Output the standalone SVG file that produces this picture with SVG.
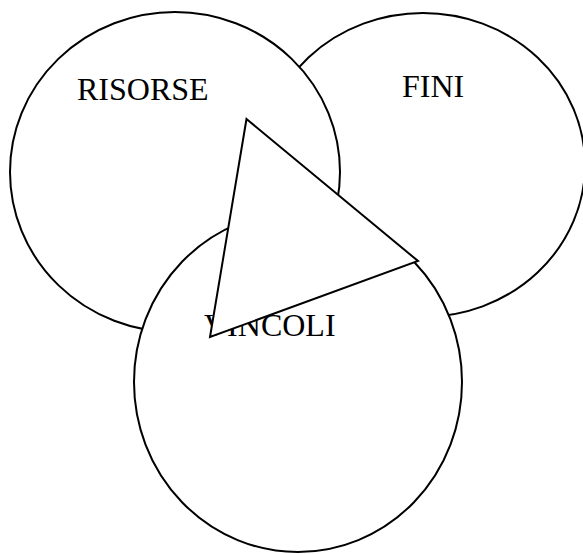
<svg xmlns="http://www.w3.org/2000/svg" width="583" height="554" viewBox="0 0 583 554">
<style>
.c{fill:#fff;stroke:#000;stroke-width:2}
.t{font-family:"Liberation Serif","Times New Roman",serif;font-size:32px;fill:#000}
</style>
<rect width="583" height="554" fill="#fff"/>
<g id="fini">
<ellipse class="c" cx="423" cy="165" rx="162" ry="152"/>
<text class="t" x="402" y="97">FINI</text>
</g>
<g id="risorse">
<ellipse class="c" cx="175" cy="172" rx="165" ry="160"/>
<text class="t" x="77" y="100">RISORSE</text>
</g>
<g id="vincoli">
<ellipse class="c" cx="298" cy="382" rx="164" ry="170"/>
<text class="t" x="204" y="336">VINCOLI</text>
</g>
<g id="triangle">
<polygon class="c" points="246.5,119 418,261 210,337"/>
</g>
<g id="connectors"></g>
</svg>
